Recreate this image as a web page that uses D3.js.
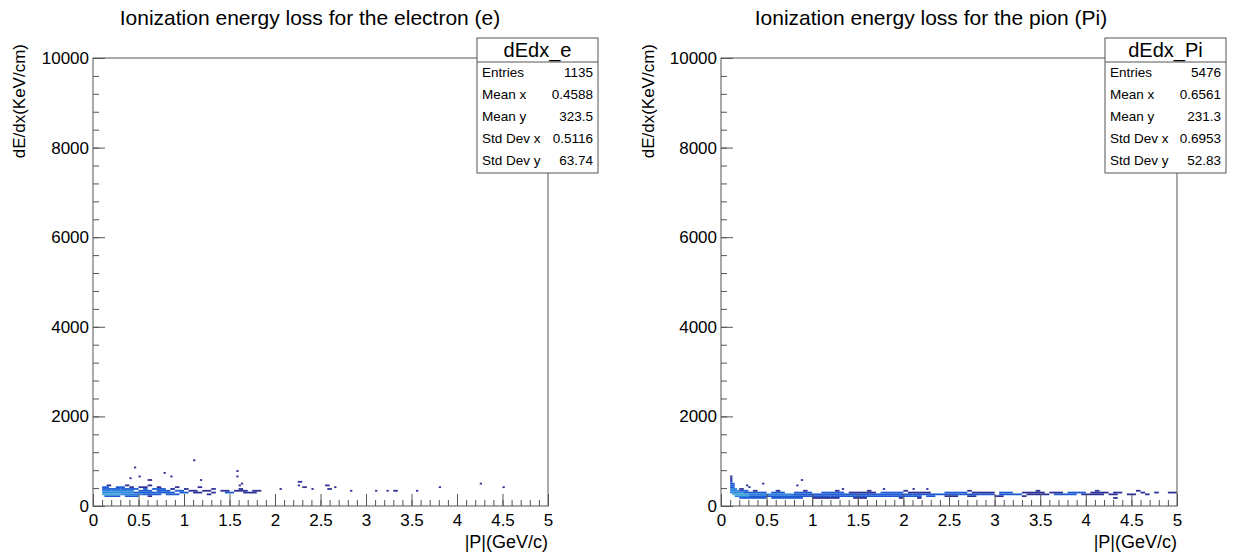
<!DOCTYPE html>
<html>
<head>
<meta charset="utf-8">
<script src="https://cdn.jsdelivr.net/npm/d3@7"></script>
<style>
  body { margin: 0; background: #fff; }
  text { font-family: "Liberation Sans", Arial, sans-serif; fill: #000; }
</style>
</head>
<body>
<svg width="1236" height="557"></svg>
<script>
// histogram runs: [p start, p end, dE/dx bin low edge, counts]
var binH = 40;

var electronRuns = [
  [0.125,0.3,200,3],[0.35,0.5,200,2],[0.6,0.65,200,1],
  [0.1,0.3,240,7],[0.3,0.55,240,4],[0.55,0.75,240,3],[0.8,0.95,240,2],[1.25,1.3,240,1],
  [0.1,0.25,280,5],[0.25,0.45,280,4],[0.45,0.7,280,3],[0.7,0.9,280,3],[0.95,1.05,280,2],[1.1,1.2,280,1],[1.3,1.35,280,1],[1.45,1.55,280,2],[1.65,1.8,280,1],
  [0.1,0.2,320,4],[0.2,0.45,320,4],[0.5,0.65,320,3],[0.7,0.85,320,2],[0.9,1.0,320,2],[1.05,1.15,320,1],[1.2,1.3,320,1],[1.4,1.5,320,1],[1.55,1.7,320,1],[1.75,1.85,320,1],
  [0.1,0.3,360,3],[0.3,0.5,360,3],[0.55,0.6,360,2],[0.65,0.8,360,2],[0.85,0.9,360,1],[1.0,1.05,360,1],[1.3,1.35,360,1],[1.6,1.65,360,1],
  [0.1,0.175,400,2],[0.25,0.35,400,2],[0.4,0.45,400,1],[0.5,0.6,400,1],[0.7,0.75,400,1],[0.9,0.95,400,1],[1.15,1.2,400,1],
  [0.15,0.2,440,1],[0.35,0.4,440,1],[0.6,0.65,440,1],[1.6,1.625,440,1],
  [0.45,0.475,840,1],[1.1,1.125,1000,1],[0.4,0.425,600,1],[0.5,0.525,640,1],[0.6,0.65,560,1],
  [0.775,0.8,720,1],[0.85,0.875,640,1],[1.575,1.6,760,1],[1.575,1.6,640,1],[1.175,1.2,560,1],[1.625,1.65,480,1],
  [2.05,2.075,360,1],[2.25,2.3,520,1],[2.25,2.275,440,1],[2.3,2.35,400,1],[2.4,2.425,360,1],[2.55,2.6,440,1],
  [2.575,2.625,360,1],[2.65,2.675,400,1],[2.825,2.85,320,1],[3.1,3.125,320,1],[3.225,3.25,320,1],[3.3,3.35,320,1],
  [3.55,3.575,320,1],[3.8,3.825,400,1],[4.25,4.275,480,1],[4.5,4.525,400,1]
];

var pionRuns = [
  [0.2,0.5,160,2],[0.55,0.9,160,2],[1.0,1.3,160,1],[1.45,1.6,160,1],[1.95,2.0,160,1],[2.15,2.2,160,1],[4.3,4.35,160,1],
  [0.15,0.3,200,5],[0.3,0.7,200,3],[0.7,1.2,200,3],[1.2,1.7,200,3],[1.7,2.2,200,2],[2.25,2.35,200,2],[2.45,2.6,200,1],[2.7,2.8,200,1],[3.0,3.1,200,1],[3.3,3.35,200,1],
  [0.125,0.3,240,7],[0.3,0.8,240,4],[0.8,1.5,240,3],[1.5,2.1,240,3],[2.1,2.6,240,3],[2.6,3.0,240,2],[3.05,3.3,240,2],[3.35,3.6,240,1],[3.65,3.9,240,2],[3.95,4.2,240,1],[4.25,4.35,240,1],[4.45,4.55,240,1],[4.65,4.7,240,1],
  [0.1,0.25,280,6],[0.25,0.5,280,3],[0.55,0.7,280,2],[0.8,1.0,280,2],[1.1,1.35,280,2],[1.4,1.7,280,1],[1.75,2.0,280,2],[2.05,2.3,280,1],[2.45,2.7,280,2],[2.75,3.0,280,1],[3.05,3.2,280,2],[3.3,3.55,280,1],[3.6,3.75,280,1],[3.8,4.0,280,2],[4.05,4.25,280,1],[4.3,4.4,280,1],[4.6,4.65,280,1],[4.75,4.8,280,1],[4.9,5.0,280,1],
  [0.1,0.2,320,5],[0.2,0.3,320,2],[0.35,0.4,320,1],[0.6,0.65,320,1],[0.9,0.95,320,1],[1.25,1.3,320,1],[1.6,1.65,320,1],[2.0,2.05,320,1],[2.7,2.75,320,1],[3.45,3.5,320,1],[4.1,4.15,320,1],[4.55,4.6,320,1],
  [0.1,0.175,360,4],[0.2,0.25,360,1],[1.325,1.35,360,1],[1.775,1.8,360,1],[2.1,2.125,360,1],[2.25,2.275,360,1],
  [0.1,0.15,400,3],[0.3,0.325,400,1],
  [0.1,0.15,440,2],[0.275,0.3,440,1],[0.825,0.85,440,1],
  [0.1,0.15,480,2],[0.45,0.475,480,1],
  [0.1,0.125,520,2],[0.1,0.125,560,1],[0.875,0.9,560,1],[0.1,0.125,600,1],[0.1,0.125,640,1]
];

var titles = ["Ionization energy loss for the electron (e)", "Ionization energy loss for the pion (Pi)"];
var histNames = ["dEdx_e", "dEdx_Pi"];
var statLabels = ["Entries", "Mean x", "Mean y", "Std Dev x", "Std Dev y"];
var electronStats = ["1135", "0.4588", "323.5", "0.5116", "63.74"];
var pionStats = ["5476", "0.6561", "231.3", "0.6953", "52.83"];

var xMajor = [0, 0.5, 1, 1.5, 2, 2.5, 3, 3.5, 4, 4.5, 5];
var yMajor = [0, 2000, 4000, 6000, 8000, 10000];

var colour = d3.scaleThreshold()
    .domain([2, 4, 7])
    .range(["#2d3196", "#1c5bd4", "#2a85df", "#3cb2cf"]);

var panels = [
  {left: 93, right: 548, runs: electronRuns, stats: electronStats, title: titles[0], name: histNames[0], titleX: 310, boxX: 477, ytitleX: 25},
  {left: 721, right: 1177, runs: pionRuns, stats: pionStats, title: titles[1], name: histNames[1], titleX: 931, boxX: 1105, ytitleX: 654}
];

var plotTop = 58, plotBottom = 506;
var svg = d3.select("svg");

panels.forEach(function(p) {
  var x = d3.scaleLinear().domain([0, 5]).range([p.left, p.right]);
  var y = d3.scaleLinear().domain([0, 10000]).range([plotBottom, plotTop]);
  var g = svg.append("g");

  g.selectAll("rect.cell")
    .data(p.runs)
    .enter().append("rect")
    .attr("class", "cell")
    .attr("x", function(d) { return x(d[0]); })
    .attr("width", function(d) { return x(d[1]) - x(d[0]); })
    .attr("y", function(d) { return y(d[2] + binH); })
    .attr("height", function(d) { return y(d[2]) - y(d[2] + binH); })
    .attr("fill", function(d) { return colour(d[3]); });

  // frame
  g.append("rect")
    .attr("x", p.left).attr("y", plotTop)
    .attr("width", p.right - p.left).attr("height", plotBottom - plotTop)
    .attr("fill", "none").attr("stroke", "#555").attr("stroke-width", 1);

  var xMinor = d3.range(0, 5.001, 0.1);
  var yMinor = d3.range(0, 10001, 400);

  var xa = g.append("g").attr("transform", "translate(0," + plotBottom + ")")
    .call(d3.axisBottom(x).tickValues(xMajor).tickSize(-12).tickPadding(8).tickFormat(d3.format("~g")));
  var xm = g.append("g").attr("transform", "translate(0," + plotBottom + ")")
    .call(d3.axisBottom(x).tickValues(xMinor).tickSize(-6).tickFormat(""));
  var ya = g.append("g").attr("transform", "translate(" + p.left + ",0)")
    .call(d3.axisLeft(y).tickValues(yMajor).tickSize(-12).tickPadding(4).tickFormat(d3.format("d")));
  var ym = g.append("g").attr("transform", "translate(" + p.left + ",0)")
    .call(d3.axisLeft(y).tickValues(yMinor).tickSize(-6).tickFormat(""));

  [xa, xm, ya, ym].forEach(function(a) {
    a.select(".domain").remove();
    a.selectAll("line").attr("stroke", "#555");
    a.selectAll("text").style("font-size", "17px").attr("fill", "#000");
  });

  g.append("text")
    .attr("x", p.right).attr("y", 548)
    .attr("text-anchor", "end").style("font-size", "18px")
    .text("|P|(GeV/c)");

  g.append("text")
    .attr("transform", "translate(" + p.ytitleX + "," + 44 + ") rotate(-90)")
    .attr("text-anchor", "end").style("font-size", "17px")
    .text("dE/dx(KeV/cm)");

  g.append("text")
    .attr("x", p.titleX).attr("y", 25)
    .attr("text-anchor", "middle").style("font-size", "21px")
    .text(p.title);

  // stats box
  var bw = 121, bx = p.boxX;
  g.append("rect")
    .attr("x", bx).attr("y", 38).attr("width", bw).attr("height", 135)
    .attr("fill", "#fff").attr("stroke", "#555");
  g.append("line")
    .attr("x1", bx).attr("x2", bx + bw).attr("y1", 62).attr("y2", 62)
    .attr("stroke", "#555");
  g.append("text")
    .attr("x", bx + bw / 2).attr("y", 57)
    .attr("text-anchor", "middle").style("font-size", "20px")
    .text(p.name);
  statLabels.forEach(function(l, i) {
    g.append("text").attr("x", bx + 5).attr("y", 77 + i * 22)
      .style("font-size", "13.5px").text(l);
    g.append("text").attr("x", bx + bw - 5).attr("y", 77 + i * 22)
      .attr("text-anchor", "end").style("font-size", "13.5px").text(p.stats[i]);
  });
});
</script>
</body>
</html>
